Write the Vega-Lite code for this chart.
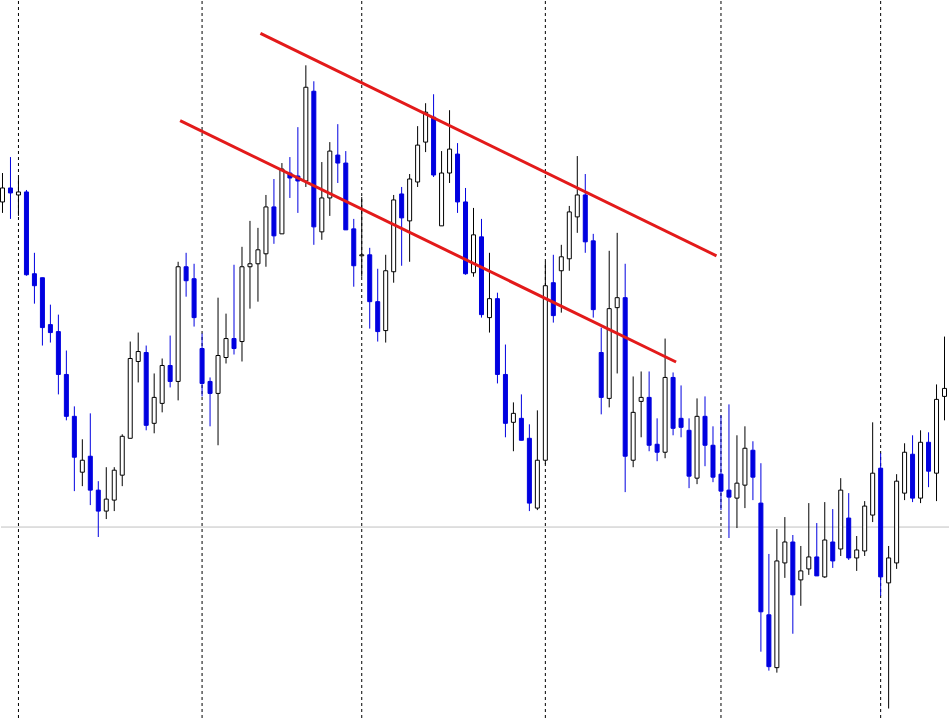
{
  "$schema": "https://vega.github.io/schema/vega-lite/v6.json",
  "width": 950,
  "height": 720,
  "autosize": {"type": "fit", "contains": "padding"},
  "padding": 0,
  "background": "white",
  "config": {"view": {"stroke": null}, "scale": {"continuousPadding": 0}},
  "datasets": {
    "candles": [
      {"i":0,"o":518,"h":547,"l":507,"c":532},
      {"i":1,"o":532,"h":563,"l":501,"c":527},
      {"i":2,"o":525,"h":542,"l":504,"c":528},
      {"i":3,"o":528,"h":530,"l":444,"c":445},
      {"i":4,"o":446,"h":467,"l":416,"c":434},
      {"i":5,"o":442,"h":442,"l":374,"c":392},
      {"i":6,"o":395,"h":415,"l":377,"c":387},
      {"i":7,"o":388,"h":405,"l":325,"c":345},
      {"i":8,"o":345,"h":369,"l":299,"c":303},
      {"i":9,"o":303,"h":313,"l":228,"c":262},
      {"i":10,"o":247,"h":280,"l":233,"c":259},
      {"i":11,"o":263,"h":306,"l":214,"c":229},
      {"i":12,"o":229,"h":238,"l":182,"c":208},
      {"i":13,"o":208,"h":252,"l":200,"c":220},
      {"i":14,"o":219,"h":252,"l":208,"c":249},
      {"i":15,"o":244,"h":285,"l":233,"c":283},
      {"i":16,"o":281,"h":378,"l":281,"c":361},
      {"i":17,"o":358,"h":387,"l":337,"c":368},
      {"i":18,"o":367,"h":374,"l":289,"c":294},
      {"i":19,"o":296,"h":346,"l":286,"c":322},
      {"i":20,"o":316,"h":361,"l":307,"c":354},
      {"i":21,"o":354,"h":384,"l":332,"c":338},
      {"i":22,"o":338,"h":458,"l":319,"c":453},
      {"i":23,"o":453,"h":467,"l":423,"c":439},
      {"i":24,"o":441,"h":456,"l":393,"c":402},
      {"i":25,"o":371,"h":386,"l":323,"c":336},
      {"i":26,"o":338,"h":342,"l":293,"c":326},
      {"i":27,"o":326,"h":422,"l":274,"c":364},
      {"i":28,"o":362,"h":406,"l":356,"c":381},
      {"i":29,"o":381,"h":455,"l":365,"c":371},
      {"i":30,"o":378,"h":473,"l":358,"c":453},
      {"i":31,"o":453,"h":499,"l":411,"c":456},
      {"i":32,"o":456,"h":492,"l":418,"c":470},
      {"i":33,"o":466,"h":525,"l":453,"c":513},
      {"i":34,"o":513,"h":541,"l":476,"c":484},
      {"i":35,"o":486,"h":557,"l":486,"c":551},
      {"i":36,"o":547,"h":563,"l":522,"c":542},
      {"i":37,"o":544,"h":593,"l":507,"c":539},
      {"i":38,"o":539,"h":655,"l":533,"c":633},
      {"i":39,"o":629,"h":639,"l":475,"c":493},
      {"i":40,"o":488,"h":558,"l":480,"c":522},
      {"i":41,"o":522,"h":578,"l":504,"c":569},
      {"i":42,"o":565,"h":596,"l":537,"c":557},
      {"i":43,"o":557,"h":569,"l":490,"c":490},
      {"i":44,"o":491,"h":501,"l":433,"c":454},
      {"i":45,"o":464,"h":523,"l":443,"c":465},
      {"i":46,"o":465,"h":472,"l":391,"c":418},
      {"i":47,"o":418,"h":451,"l":378,"c":388},
      {"i":48,"o":389,"h":465,"l":377,"c":449},
      {"i":49,"o":448,"h":525,"l":437,"c":520},
      {"i":50,"o":526,"h":533,"l":454,"c":502},
      {"i":51,"o":499,"h":546,"l":458,"c":541},
      {"i":52,"o":538,"h":594,"l":533,"c":575},
      {"i":53,"o":578,"h":617,"l":568,"c":608},
      {"i":54,"o":603,"h":626,"l":543,"c":545},
      {"i":55,"o":494,"h":569,"l":494,"c":547},
      {"i":56,"o":547,"h":610,"l":537,"c":571},
      {"i":57,"o":566,"h":577,"l":507,"c":518},
      {"i":58,"o":518,"h":532,"l":445,"c":446},
      {"i":59,"o":447,"h":512,"l":443,"c":485},
      {"i":60,"o":483,"h":501,"l":402,"c":405},
      {"i":61,"o":402,"h":467,"l":387,"c":421},
      {"i":62,"o":421,"h":427,"l":336,"c":345},
      {"i":63,"o":345,"h":375,"l":282,"c":296},
      {"i":64,"o":297,"h":317,"l":268,"c":306},
      {"i":65,"o":301,"h":325,"l":279,"c":279},
      {"i":66,"o":281,"h":295,"l":208,"c":216},
      {"i":67,"o":211,"h":309,"l":209,"c":259},
      {"i":68,"o":259,"h":458,"l":255,"c":434},
      {"i":69,"o":437,"h":465,"l":397,"c":404},
      {"i":70,"o":449,"h":475,"l":407,"c":463},
      {"i":71,"o":461,"h":514,"l":449,"c":508},
      {"i":72,"o":503,"h":564,"l":487,"c":525},
      {"i":73,"o":525,"h":546,"l":467,"c":478},
      {"i":74,"o":479,"h":486,"l":402,"c":410},
      {"i":75,"o":367,"h":392,"l":305,"c":322},
      {"i":76,"o":321,"h":469,"l":312,"c":411},
      {"i":77,"o":412,"h":487,"l":346,"c":422},
      {"i":78,"o":422,"h":456,"l":227,"c":263},
      {"i":79,"o":259,"h":343,"l":252,"c":307},
      {"i":80,"o":318,"h":348,"l":282,"c":322},
      {"i":81,"o":322,"h":348,"l":268,"c":274},
      {"i":82,"o":275,"h":301,"l":258,"c":267},
      {"i":83,"o":267,"h":381,"l":261,"c":342},
      {"i":84,"o":342,"h":347,"l":284,"c":291},
      {"i":85,"o":301,"h":334,"l":282,"c":292},
      {"i":86,"o":289,"h":301,"l":231,"c":243},
      {"i":87,"o":241,"h":321,"l":235,"c":303},
      {"i":88,"o":303,"h":323,"l":253,"c":274},
      {"i":89,"o":274,"h":293,"l":237,"c":242},
      {"i":90,"o":245,"h":304,"l":209,"c":228},
      {"i":91,"o":229,"h":315,"l":181,"c":222},
      {"i":92,"o":221,"h":284,"l":191,"c":236},
      {"i":93,"o":234,"h":293,"l":211,"c":271},
      {"i":94,"o":269,"h":278,"l":219,"c":242},
      {"i":95,"o":216,"h":256,"l":67,"c":107},
      {"i":96,"o":104,"h":165,"l":48,"c":52},
      {"i":97,"o":51,"h":190,"l":46,"c":158},
      {"i":98,"o":156,"h":202,"l":141,"c":177},
      {"i":99,"o":177,"h":184,"l":85,"c":124},
      {"i":100,"o":139,"h":173,"l":113,"c":148},
      {"i":101,"o":150,"h":216,"l":144,"c":162},
      {"i":102,"o":162,"h":196,"l":143,"c":143},
      {"i":103,"o":142,"h":217,"l":141,"c":179},
      {"i":104,"o":177,"h":210,"l":151,"c":158},
      {"i":105,"o":170,"h":241,"l":163,"c":229},
      {"i":106,"o":201,"h":226,"l":159,"c":161},
      {"i":107,"o":161,"h":183,"l":148,"c":169},
      {"i":108,"o":168,"h":218,"l":163,"c":213},
      {"i":109,"o":204,"h":297,"l":197,"c":246},
      {"i":110,"o":251,"h":266,"l":123,"c":142},
      {"i":111,"o":136,"h":173,"l":10,"c":161},
      {"i":112,"o":156,"h":245,"l":150,"c":238},
      {"i":113,"o":226,"h":276,"l":219,"c":267},
      {"i":114,"o":265,"h":284,"l":217,"c":221},
      {"i":115,"o":221,"h":289,"l":216,"c":277},
      {"i":116,"o":277,"h":287,"l":232,"c":248},
      {"i":117,"o":246,"h":335,"l":218,"c":320},
      {"i":118,"o":323,"h":383,"l":299,"c":331}
    ],
    "separators": [{"i":2},{"i":25},{"i":45},{"i":68},{"i":90},{"i":110}],
    "level": [{"p":192}],
    "trendlines": [
      {"line":"upper","i":32.3125,"p":687},
      {"line":"upper","i":89.4375,"p":464},
      {"line":"lower","i":22.25,"p":599.5},
      {"line":"lower","i":84.375,"p":357.5}
    ]
  },
  "layer": [
    {
      "data": {"name": "level"},
      "mark": {"type": "rule", "color": "#c0c0c0", "strokeWidth": 1},
      "encoding": {
        "y": {"field": "p", "type": "quantitative", "scale": {"domain": [-0.5, 719.5], "nice": false, "zero": false, "padding": 0}, "axis": null}
      }
    },
    {
      "data": {"name": "separators"},
      "mark": {"type": "rule", "color": "#000000", "strokeWidth": 1, "strokeDash": [3, 3]},
      "encoding": {
        "x": {"field": "i", "type": "quantitative", "scale": {"domain": [-0.1875, 118.5625], "nice": false, "zero": false, "padding": 0}, "axis": null}
      }
    },
    {
      "data": {"name": "candles"},
      "mark": {"type": "rule", "strokeWidth": 1},
      "encoding": {
        "x": {"field": "i", "type": "quantitative", "scale": {"domain": [-0.1875, 118.5625], "nice": false, "zero": false, "padding": 0}, "axis": null},
        "y": {"field": "l", "type": "quantitative", "scale": {"domain": [-0.5, 719.5], "nice": false, "zero": false, "padding": 0}, "axis": null},
        "y2": {"field": "h"},
        "color": {"condition": {"test": "datum.c >= datum.o", "value": "#000000"}, "value": "#0000e0"}
      }
    },
    {
      "data": {"name": "candles"},
      "mark": {"type": "bar", "width": 4, "strokeWidth": 1},
      "encoding": {
        "x": {"field": "i", "type": "quantitative", "scale": {"domain": [-0.1875, 118.5625], "nice": false, "zero": false, "padding": 0}, "axis": null},
        "y": {"field": "o", "type": "quantitative", "scale": {"domain": [-0.5, 719.5], "nice": false, "zero": false, "padding": 0}, "axis": null},
        "y2": {"field": "c"},
        "fill": {"condition": {"test": "datum.c >= datum.o", "value": "#ffffff"}, "value": "#0000e0"},
        "stroke": {"condition": {"test": "datum.c >= datum.o", "value": "#000000"}, "value": "#0000e0"}
      }
    },
    {
      "data": {"name": "trendlines"},
      "mark": {"type": "line", "color": "#e31a1a", "strokeWidth": 3},
      "encoding": {
        "x": {"field": "i", "type": "quantitative", "scale": {"domain": [-0.1875, 118.5625], "nice": false, "zero": false, "padding": 0}, "axis": null},
        "y": {"field": "p", "type": "quantitative", "scale": {"domain": [-0.5, 719.5], "nice": false, "zero": false, "padding": 0}, "axis": null},
        "detail": {"field": "line", "type": "nominal"}
      }
    }
  ]
}
